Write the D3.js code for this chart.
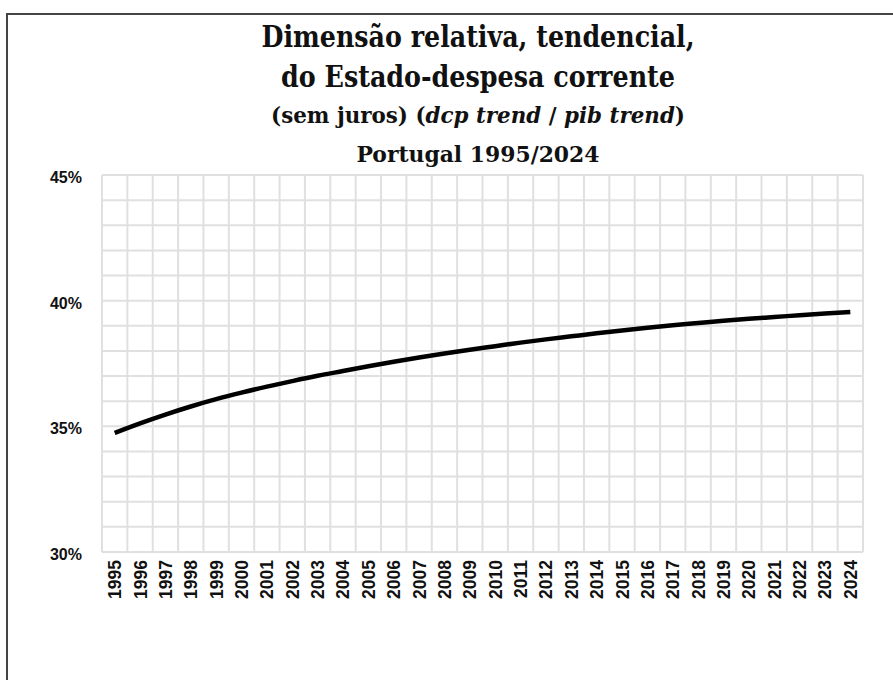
<!DOCTYPE html>
<html>
<head>
<meta charset="utf-8">
<script src="https://cdn.jsdelivr.net/npm/d3@7"></script>
<style>
  body { margin: 0; background: #fff; }
  .ylab, .xlab { font-family: "Liberation Sans", Arial, sans-serif; font-weight: bold; fill: #111; }
  .title { font-family: "DejaVu Serif", serif; font-weight: bold; font-stretch: condensed; fill: #111; }
</style>
</head>
<body>
<div id="chart"></div>
<script>
var width = 893,
    height = 680;

// dados
var years = ["1995", "1996", "1997", "1998", "1999", "2000", "2001", "2002", "2003", "2004",
    "2005", "2006", "2007", "2008", "2009", "2010", "2011", "2012", "2013", "2014",
    "2015", "2016", "2017", "2018", "2019", "2020", "2021", "2022", "2023", "2024"];
var ratio = [34.74, 35.12, 35.47, 35.79, 36.08, 36.34, 36.58, 36.8, 37.01, 37.2,
    37.39, 37.57, 37.74, 37.9, 38.05, 38.19, 38.33, 38.46, 38.58, 38.7,
    38.81, 38.92, 39.02, 39.11, 39.2, 39.28, 39.35, 39.42, 39.49, 39.55];
var yTicks = [30, 35, 40, 45];
var yGrid = d3.range(30, 46, 1);
var titleLines = [
    { text: "Dimensão relativa, tendencial,", size: 30, y: 47, len: 433 },
    { text: "do Estado-despesa corrente", size: 30, y: 87, len: 394 },
    { text: null, size: 23, y: 123, len: 414 },
    { text: "Portugal 1995/2024", size: 23, y: 162, len: 243 }
];

var margin = { left: 102, right: 30, top: 175, bottom: 128 };

var x = d3.scaleBand()
    .domain(years)
    .range([margin.left, 863]);

var y = d3.scaleLinear()
    .domain([30, 45])
    .range([552, margin.top]);

var svg = d3.select("#chart").append("svg")
    .attr("width", width)
    .attr("height", height);

// moldura
svg.append("rect")
    .attr("x", 7)
    .attr("y", 14)
    .attr("width", 1000)
    .attr("height", 1000)
    .attr("fill", "none")
    .attr("stroke", "#444")
    .attr("stroke-width", 2);

var grid = svg.append("g").attr("stroke", "#e0e0e0").attr("stroke-width", 2);

grid.selectAll("line.h")
    .data(yGrid)
    .enter().append("line")
    .attr("class", "h")
    .attr("x1", margin.left)
    .attr("x2", 863)
    .attr("y1", function (d) { return y(d); })
    .attr("y2", function (d) { return y(d); });

var xEdges = years.map(function (d) { return x(d); }).concat([863]);
grid.selectAll("line.v")
    .data(xEdges)
    .enter().append("line")
    .attr("class", "v")
    .attr("x1", function (d) { return d; })
    .attr("x2", function (d) { return d; })
    .attr("y1", y(45))
    .attr("y2", y(30));

svg.selectAll("text.ylab")
    .data(yTicks)
    .enter().append("text")
    .attr("class", "ylab")
    .attr("x", 82)
    .attr("y", function (d) { return y(d) + 8; })
    .attr("text-anchor", "end")
    .attr("font-size", 16)
    .text(function (d) { return d + "%"; });

svg.selectAll("text.xlab")
    .data(years)
    .enter().append("text")
    .attr("class", "xlab")
    .attr("text-anchor", "end")
    .attr("font-size", 17.5)
    .attr("transform", function (d) { return "translate(" + (x(d) + x.bandwidth() / 2 + 6.5) + ",560) rotate(-90)"; })
    .text(function (d) { return d; });

var line = d3.line()
    .x(function (d, i) { return x(years[i]) + x.bandwidth() / 2; })
    .y(function (d) { return y(d); })
    .curve(d3.curveMonotoneX);

svg.append("path")
    .datum(ratio)
    .attr("d", line)
    .attr("fill", "none")
    .attr("stroke", "#000")
    .attr("stroke-width", 4.5);

// titulo
titleLines.forEach(function (t) {
    var txt = svg.append("text")
        .attr("class", "title")
        .attr("x", 478)
        .attr("y", t.y)
        .attr("text-anchor", "middle")
        .attr("font-size", t.size)
        .attr("textLength", t.len)
        .attr("lengthAdjust", "spacingAndGlyphs");
    if (t.text) {
        txt.text(t.text);
    } else {
        txt.append("tspan").text("(sem juros) (");
        txt.append("tspan").attr("font-style", "italic").text("dcp trend");
        txt.append("tspan").text(" / ");
        txt.append("tspan").attr("font-style", "italic").text("pib trend");
        txt.append("tspan").text(")");
    }
});
</script>
</body>
</html>
